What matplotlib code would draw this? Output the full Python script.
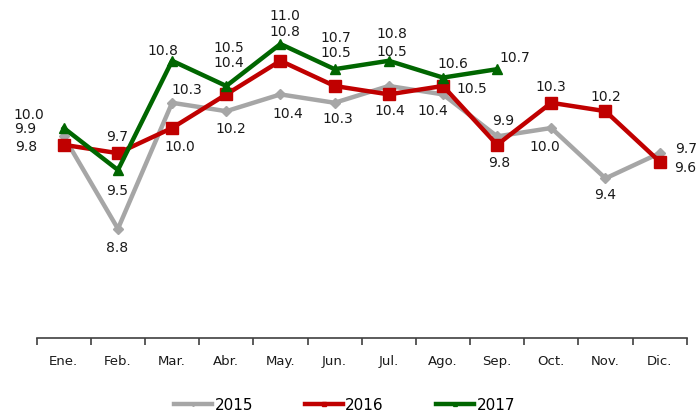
import matplotlib
matplotlib.use("Agg")
import matplotlib.pyplot as plt
from matplotlib.ticker import FixedLocator

months = ["Ene.", "Feb.", "Mar.", "Abr.", "May.", "Jun.", "Jul.", "Ago.", "Sep.", "Oct.", "Nov.", "Dic."]
y2015 = [9.9, 8.8, 10.3, 10.2, 10.4, 10.3, 10.5, 10.4, 9.9, 10.0, 9.4, 9.7]
y2016 = [9.8, 9.7, 10.0, 10.4, 10.8, 10.5, 10.4, 10.5, 9.8, 10.3, 10.2, 9.6]
y2017 = [10.0, 9.5, 10.8, 10.5, 11.0, 10.7, 10.8, 10.6, 10.7]

# label offsets in pixels (dx, dy) relative to each point
off2015 = [(-39, 7), (-1, -19), (15, 13), (5, -18), (7, -20), (3, -16), (3, 34), (-10, -17), (6, 15), (-6, -19), (0, -17), (27, 4)]
off2016 = [(-38, -2), (-1, 16), (8, -19), (3, 31), (4, 29), (1, 33), (1, -17), (29, -3), (2, -18), (0, 16), (0, 14), (26, -6)]
off2017 = [(-35, 13), (-1, -21), (-9, 10), (3, 38), (4, 28), (1, 31), (3, 27), (10, 14), (18, 11)]

col15, col16, col17 = "#A6A6A6", "#C00000", "#006600"

fig = plt.figure(figsize=(7.0, 4.13), dpi=100)
ax = fig.add_axes([0.0524, 0.1816, 0.9286, 0.8136])

x15 = list(range(len(y2015)))
x16 = list(range(len(y2016)))
x17 = list(range(len(y2017)))
ax.plot(x15, y2015, color=col15, lw=3.2, marker="D", ms=5, label="2015", zorder=2)
ax.plot(x16, y2016, color=col16, lw=3.2, marker="s", ms=8.5, label="2016", zorder=3)
ax.plot(x17, y2017, color=col17, lw=3.2, marker="^", ms=7, label="2017", zorder=4)

fs = 10
for xs, ys, offs in [(x15, y2015, off2015), (x16, y2016, off2016), (x17, y2017, off2017)]:
    for xi, yi, (dx, dy) in zip(xs, ys, offs):
        ax.annotate(f"{yi:.1f}", (xi, yi), xytext=(dx, dy), textcoords="offset pixels",
                    ha="center", va="center", fontsize=fs, color="#1a1a1a")

ax.set_xlim(-0.5, 11.5)
ax.set_ylim(7.5, 11.5)
ax.set_yticks([])
for s in ["left", "right", "top"]:
    ax.spines[s].set_visible(False)
ax.spines["bottom"].set_color("#404040")
ax.spines["bottom"].set_linewidth(1.2)

ax.xaxis.set_major_locator(FixedLocator(range(12)))
ax.set_xticklabels(months, fontsize=9.5, color="#1a1a1a")
ax.xaxis.set_minor_locator(FixedLocator([i - 0.5 for i in range(13)]))
ax.tick_params(axis="x", which="major", length=0, pad=12)
ax.tick_params(axis="x", which="minor", length=5, width=1.2, color="#404040", direction="out")

leg = fig.legend(loc="center", bbox_to_anchor=(0.492, 8 / 413), ncol=3, frameon=False,
                 fontsize=11, handlelength=2.5, columnspacing=3.4, handletextpad=0.15,
                 markerscale=0.4, borderpad=0)

fig.savefig("out.png", dpi=100)
